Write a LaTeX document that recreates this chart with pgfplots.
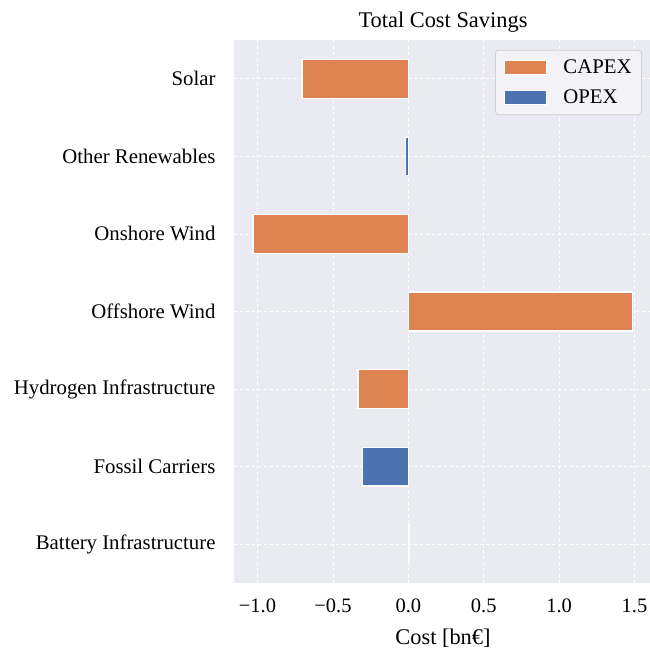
\documentclass[border=0pt]{standalone}
\usepackage{pgfplots}
\pgfplotsset{compat=1.18}
\usepackage{fontspec}
\setmainfont{Liberation Serif}
\definecolor{bg}{HTML}{EAEAF2}
\definecolor{capex}{HTML}{DD8452}
\definecolor{opex}{HTML}{4C72B0}
\begin{document}
\begin{tikzpicture}
\begin{axis}[
  at={(0,0)}, anchor=south west,
  scale only axis, width=418pt, height=543pt,
  xmin=-1.156, xmax=1.616, ymin=-0.5, ymax=6.5,
  xbar stacked, bar width=0.5,
  axis background/.style={fill=bg},
  axis line style={draw=none},
  major tick length=0pt,
  grid=major, grid style={white, dashed, line width=0.7pt},
  xtick={-1,-0.5,0,0.5,1,1.5},
  xticklabels={−1.0,−0.5,0.0,0.5,1.0,1.5},
  ytick={0,1,2,3,4,5,6},
  yticklabels={Battery Infrastructure,Fossil Carriers,Hydrogen Infrastructure,Offshore Wind,Onshore Wind,Other Renewables,Solar},
  xticklabel style={font=\fontsize{20.5}{24}\selectfont, yshift=-12pt},
  yticklabel style={font=\fontsize{20.8}{24}\selectfont, xshift=-15pt},
  title={Total Cost Savings},
  title style={font=\fontsize{22.4}{26}\selectfont, yshift=-2pt},
  xlabel={Cost [bn€]},
  xlabel style={font=\fontsize{22.4}{26}\selectfont, yshift=-10pt},
  legend style={at={(rel axis cs:0.976,0.982)}, anchor=north east,
    fill=bg!60!white, draw=black!18, rounded corners=3pt, line width=0.8pt,
    font=\fontsize{20.8}{24}\selectfont, inner xsep=8pt, inner ysep=8pt,
    column sep=15pt,
    row sep=10pt, cells={anchor=west}},
  legend image code/.code={\draw[#1, sharp corners, draw=white, line width=0.8pt] (0pt,-7pt) rectangle (42pt,7pt);},
  every axis plot/.append style={draw=white, line width=1.3pt},
]
\addplot[fill=capex] coordinates {(0.004,0) (0,1) (-0.334,2) (1.488,3) (-1.03,4) (0,5) (-0.705,6)};
\addplot[fill=opex] coordinates {(0,0) (-0.305,1) (0,2) (0,3) (0,4) (-0.02,5) (0,6)};
\legend{CAPEX,OPEX}
\end{axis}
\pgfresetboundingbox
\path[use as bounding box] (-234pt,-67pt) rectangle (416pt,583pt);
\end{tikzpicture}
\end{document}
